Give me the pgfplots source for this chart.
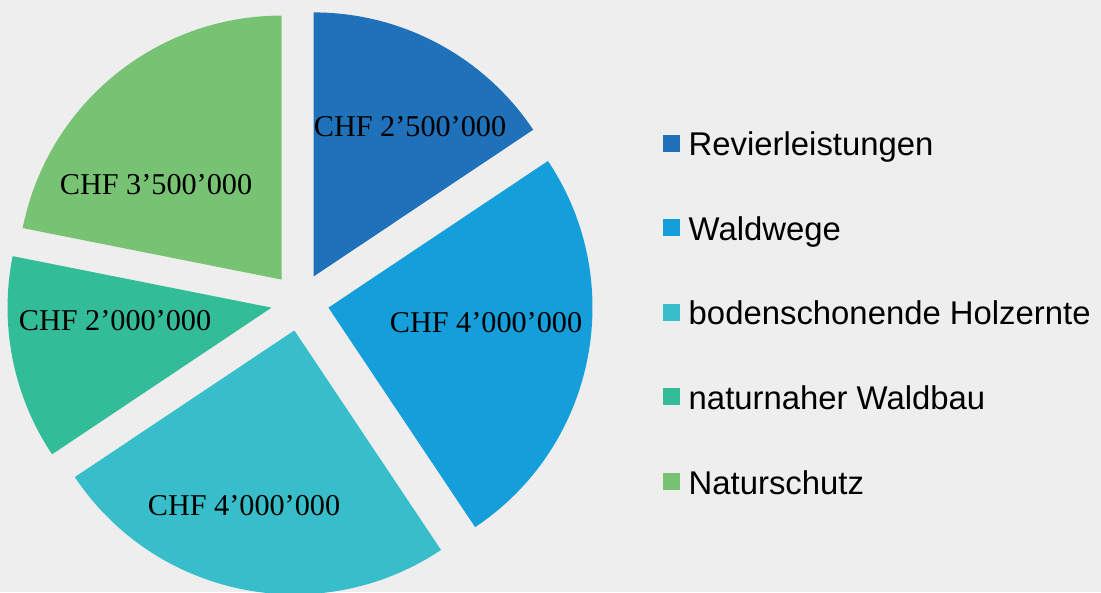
\documentclass[border=0pt]{standalone}
\usepackage{pgfplots}
\pgfplotsset{compat=1.18}
\usetikzlibrary{calc}
\usepackage{fontspec}
\setmainfont{Liberation Serif}
\newfontfamily\arial{Liberation Sans}
\definecolor{bg}{RGB}{238,238,238}
\definecolor{c1}{RGB}{31,113,185}
\definecolor{c2}{RGB}{20,158,218}
\definecolor{c3}{RGB}{55,190,202}
\definecolor{c4}{RGB}{50,189,152}
\definecolor{c5}{RGB}{120,194,115}
\newcommand\pcum{0}
\newcommand\ptotal{16}
% #1 value (CHF million), #2 colour
\newcommand\pieslice[2]{%
  \pgfmathsetmacro\sa{90-\pcum/\ptotal*360}%
  \pgfmathsetmacro\ea{90-(\pcum+#1)/\ptotal*360}%
  \pgfmathsetmacro\ma{(\sa+\ea)/2}%
  \fill[#2] ($(axis cs:300,-302)+(\ma:0.29cm)$) -- ++(\sa:2.64cm)
     arc[start angle=\sa, end angle=\ea, radius=2.64cm] -- cycle;%
  \pgfmathsetmacro\newcum{\pcum+#1}\global\let\pcum\newcum
}
\begin{document}
\begin{tikzpicture}
\begin{axis}[scale only axis, width=11.01cm, height=5.92cm,
  xmin=0, xmax=1101, ymin=-592, ymax=0, hide axis, clip=false]
\pgfplotsextra{
  \fill[bg] (axis cs:0,-592) rectangle (axis cs:1101,0);
  \begin{scope}
    \clip (axis cs:0,-592) rectangle (axis cs:1101,0);
    \pieslice{2.5}{c1}
    \pieslice{4}{c2}
    \pieslice{4}{c3}
    \pieslice{2}{c4}
    \pieslice{3.5}{c5}
  \end{scope}
  \begin{scope}[every node/.style={anchor=base, inner sep=0pt, font=\fontsize{8.6}{10}\selectfont}]
    \node at (axis cs:410,-137) {CHF 2’500’000};
    \node at (axis cs:486,-333) {CHF 4’000’000};
    \node at (axis cs:244,-515) {CHF 4’000’000};
    \node at (axis cs:115,-331) {CHF 2’000’000};
    \node at (axis cs:156,-195) {CHF 3’500’000};
  \end{scope}
  \begin{scope}[every node/.style={anchor=base west, inner sep=0pt, font=\arial\fontsize{9.35}{11}\selectfont}]
    \fill[c1] (axis cs:663,-135) rectangle (axis cs:680,-152);
    \node at (axis cs:688,-156) {Revierleistungen};
    \fill[c2] (axis cs:663,-219.5) rectangle (axis cs:680,-236.5);
    \node at (axis cs:688,-240.5) {Waldwege};
    \fill[c3] (axis cs:663,-304) rectangle (axis cs:680,-321);
    \node at (axis cs:688,-325) {bodenschonende Holzernte};
    \fill[c4] (axis cs:663,-388.5) rectangle (axis cs:680,-405.5);
    \node at (axis cs:688,-409.5) {naturnaher Waldbau};
    \fill[c5] (axis cs:663,-473) rectangle (axis cs:680,-490);
    \node at (axis cs:688,-494) {Naturschutz};
  \end{scope}
}
\coordinate (bl) at (axis cs:0,-592);
\coordinate (tr) at (axis cs:1101,0);
\end{axis}
\pgfresetboundingbox
\path[use as bounding box] (bl) rectangle (tr);
\end{tikzpicture}
\end{document}
